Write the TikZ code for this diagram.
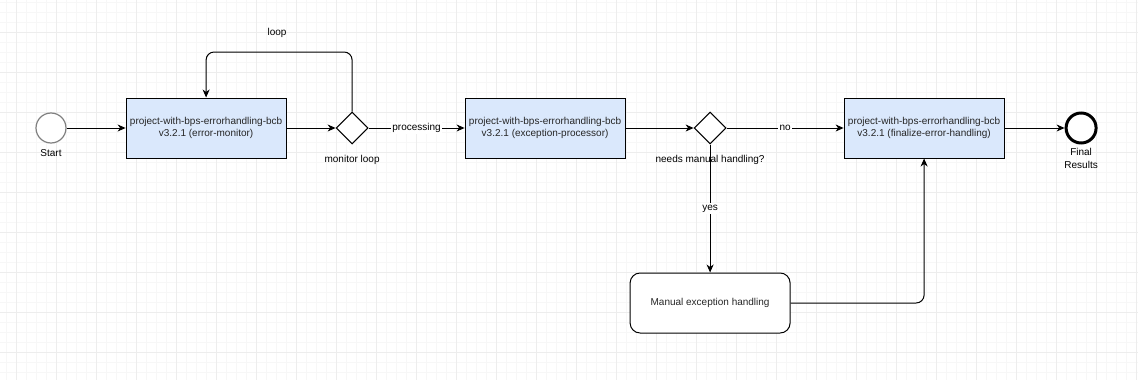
\documentclass[tikz,border=0pt]{standalone}
\usepackage{fontspec}
\setmainfont{Liberation Sans}
\usetikzlibrary{arrows.meta,positioning,shapes.geometric}
\definecolor{taskfill}{HTML}{DAE8FC}

\begin{document}
\begin{tikzpicture}[
  x=1pt, y=-1pt,
  font=\fontsize{10}{12.5}\selectfont,
  task/.style={draw, line width=1pt, fill=taskfill, align=center, inner sep=0pt,
               minimum width=160pt, minimum height=60pt, text=black!85},
  manualbox/.style={task, fill=white, rounded corners=10pt},
  gate/.style={diamond, draw, line width=1pt, fill=white, minimum size=32pt, inner sep=0pt},
  event/.style={circle, draw, fill=white, minimum size=30pt, inner sep=0pt},
  tag/.style={inner sep=0pt, align=center},
  cond/.style={fill=white, inner sep=1.5pt},
  flow/.style={-{Stealth[length=8pt, width=7pt, inset=2.5pt]}, line width=1pt},
  gridminor/.style={draw=black!3, line width=0.8pt},
  gridmajor/.style={draw=black!7, line width=0.8pt}
]
\useasboundingbox (0,0) rectangle (1138,380);
% background grid
\fill[white] (0,0) rectangle (1138,380);
\foreach \gx in {6.7,16.7,...,1137} \draw[gridminor] (\gx,0) -- (\gx,380);
\foreach \gy in {2.3,12.3,...,380} \draw[gridminor] (0,\gy) -- (1138,\gy);
\foreach \gx in {16.7,56.7,...,1137} \draw[gridmajor] (\gx,0) -- (\gx,380);
\foreach \gy in {32.3,72.3,...,380} \draw[gridmajor] (0,\gy) -- (1138,\gy);

\node[event, draw=black!50, line width=1.2pt] (start) at (51,128) {};
\node[task, right=59pt of start]      (monitor)   {project-with-bps-errorhandling-bcb\\v3.2.1 (error-monitor)};
\node[gate, right=49pt of monitor]    (loopgw)    {};
\node[task, right=96pt of loopgw]     (processor) {project-with-bps-errorhandling-bcb\\v3.2.1 (exception-processor)};
\node[gate, right=68pt of processor]  (manualgw)  {};
\node[task, right=117pt of manualgw]  (finalize)  {project-with-bps-errorhandling-bcb\\v3.2.1 (finalize-error-handling)};
\node[event, line width=3pt, right=60pt of finalize] (final) {};
\node[manualbox, below=128pt of manualgw] (manual) {Manual exception handling};

\node[tag, below=6pt of start]     (startlbl)  {Start};
\node[tag, below=11pt of loopgw]   (looplbl)   {monitor loop};
\node[tag, below=11pt of manualgw] (manuallbl) {needs manual handling?};
\node[tag, below=4pt of final]     (finallbl)  {Final\\Results};
\coordinate (looptop) at (0,52);
\node[tag] (looptag) at (277,33) {loop};

\draw[flow] (start) -- (monitor);
\draw[flow] (monitor) -- (loopgw);
\draw[flow, rounded corners=8pt] (loopgw.north) -- (loopgw.north |- looptop) -| (monitor.north);
\draw[flow] (loopgw) -- node[cond] (proclbl) {processing} (processor);
\draw[flow] (processor) -- (manualgw);
\draw[flow] (manualgw) -- node[cond] (nolbl) {no} (finalize);
\draw[flow] (manualgw) -- node[cond] (yeslbl) {yes} (manual);
\draw[flow, rounded corners=8pt] (manual.east) -| (finalize.south);
\draw[flow] (finalize) -- (final);
\end{tikzpicture}
\end{document}
